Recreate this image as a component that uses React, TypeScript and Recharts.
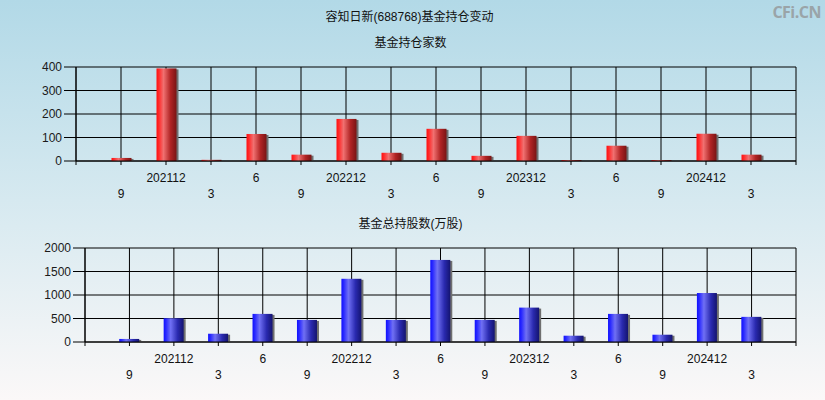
import React from 'react';
import { BarChart, Bar, XAxis, YAxis, CartesianGrid } from 'recharts';

const periods = [1, 2, 3, 4, 5, 6, 7, 8, 9, 10, 11, 12, 13, 14, 15];
const periodLabels = ['9', '202112', '3', '6', '9', '202212', '3', '6', '9', '202312', '3', '6', '9', '202412', '3'];
const fundCounts = [13, 394, 5, 115, 27, 179, 35, 137, 22, 107, 4, 65, 4, 116, 27];
const fundShares = [65, 505, 176, 598, 470, 1345, 470, 1746, 470, 732, 134, 598, 155, 1042, 535];
const countTicks = [0, 100, 200, 300, 400];
const shareTicks = [0, 500, 1000, 1500, 2000];
const xTicks = [0, 1, 2, 3, 4, 5, 6, 7, 8, 9, 10, 11, 12, 13, 14, 15, 16];

const countData = periods.map((p, i) => ({ x: p, value: fundCounts[i] }));
const shareData = periods.map((p, i) => ({ x: p, value: fundShares[i] }));

const FONT = '"Liberation Sans", Arial, "Noto Sans CJK SC", sans-serif';

function PeriodTick(props: any) {
  const { x, y, payload } = props;
  const idx = payload.value - 1;
  if (idx < 0 || idx >= periodLabels.length) return null;
  const upper = idx % 2 === 1;
  return (
    <text
      x={x}
      y={y + (upper ? 11 : 27)}
      textAnchor="middle"
      dominantBaseline="central"
      fontSize={12}
      fontFamily={FONT}
      fill="#111"
    >
      {periodLabels[idx]}
    </text>
  );
}

function makeShape(gradId: string) {
  return (props: any) => {
    const { x, y, width, height } = props;
    if (!height || height <= 0) return <g />;
    return (
      <g>
        <rect x={x + 2} y={y + 1} width={width} height={Math.max(height - 1, 0)} fill="#6f6f6f" />
        <rect x={x} y={y} width={width} height={height} fill={`url(#${gradId})`} />
      </g>
    );
  };
}

function Gradients() {
  return (
    <defs>
      <linearGradient id="redBar" x1="0" y1="0" x2="1" y2="0">
        <stop offset="0%" stopColor="#ff1010" />
        <stop offset="12%" stopColor="#ff2a2a" />
        <stop offset="35%" stopColor="#f07070" />
        <stop offset="70%" stopColor="#b02424" />
        <stop offset="100%" stopColor="#7a1414" />
      </linearGradient>
      <linearGradient id="blueBar" x1="0" y1="0" x2="1" y2="0">
        <stop offset="0%" stopColor="#1010ff" />
        <stop offset="12%" stopColor="#2a2aff" />
        <stop offset="35%" stopColor="#7070f4" />
        <stop offset="70%" stopColor="#2a2ab0" />
        <stop offset="100%" stopColor="#141470" />
      </linearGradient>
    </defs>
  );
}

const yTickStyle = { fontSize: 12, fontFamily: FONT, fill: '#1a1a1a' };

const titleStyle: React.CSSProperties = {
  position: 'absolute',
  left: 0,
  width: 825,
  textAlign: 'center',
  fontSize: 12,
  lineHeight: '16px',
  fontFamily: FONT,
  color: '#111',
};

export default function App() {
  return (
    <div
      style={{
        position: 'absolute',
        left: 0,
        top: 0,
        width: 825,
        height: 400,
        overflow: 'hidden',
        background: 'linear-gradient(to bottom, #b2d9e7 0%, #d6e9f0 50%, #fbf8f8 100%)',
      }}
    >
      <div style={{ ...titleStyle, top: 9, left: -3 }}>容知日新(688768)基金持仓变动</div>
      <div style={{ ...titleStyle, top: 35, left: -2 }}>基金持仓家数</div>
      <div style={{ ...titleStyle, top: 216, left: -2 }}>基金总持股数(万股)</div>
      <div
        style={{
          position: 'absolute',
          right: 4,
          top: 1,
          fontSize: 16,
          fontWeight: 'bold',
          fontFamily: '"Open Sans", "Liberation Sans", sans-serif',
          color: '#9aa4a8',
          letterSpacing: -0.5,
        }}
      >
        CFi.CN
      </div>

      <div style={{ position: 'absolute', left: 0, top: 0 }}>
        <BarChart width={825} height={200} data={countData} margin={{ top: 67, right: 29, left: 30, bottom: 0 }}>
          <Gradients />
          <CartesianGrid stroke="#000" strokeWidth={1} />
          <XAxis
            dataKey="x"
            type="number"
            domain={[0, 16]}
            ticks={xTicks}
            interval={0}
            height={39}
            tickSize={4}
            tickLine={{ stroke: '#000' }}
            axisLine={{ stroke: '#000' }}
            tick={<PeriodTick />}
          />
          <YAxis
            domain={[0, 400]}
            ticks={countTicks}
            interval={0}
            width={46}
            tickSize={12}
            tickMargin={2}
            tickLine={{ stroke: '#000' }}
            axisLine={{ stroke: '#000' }}
            tick={yTickStyle}
          />
          <Bar dataKey="value" barSize={20} shape={makeShape('redBar')} isAnimationActive={false} />
        </BarChart>
      </div>

      <div style={{ position: 'absolute', left: 0, top: 200 }}>
        <BarChart width={825} height={200} data={shareData} margin={{ top: 48, right: 29, left: 39, bottom: 0 }}>
          <Gradients />
          <CartesianGrid stroke="#000" strokeWidth={1} />
          <XAxis
            dataKey="x"
            type="number"
            domain={[0, 16]}
            ticks={xTicks}
            interval={0}
            height={58}
            tickSize={4}
            tickLine={{ stroke: '#000' }}
            axisLine={{ stroke: '#000' }}
            tick={<PeriodTick />}
          />
          <YAxis
            domain={[0, 2000]}
            ticks={shareTicks}
            interval={0}
            width={46}
            tickSize={12}
            tickMargin={2}
            tickLine={{ stroke: '#000' }}
            axisLine={{ stroke: '#000' }}
            tick={yTickStyle}
          />
          <Bar dataKey="value" barSize={20} shape={makeShape('blueBar')} isAnimationActive={false} />
        </BarChart>
      </div>
    </div>
  );
}
